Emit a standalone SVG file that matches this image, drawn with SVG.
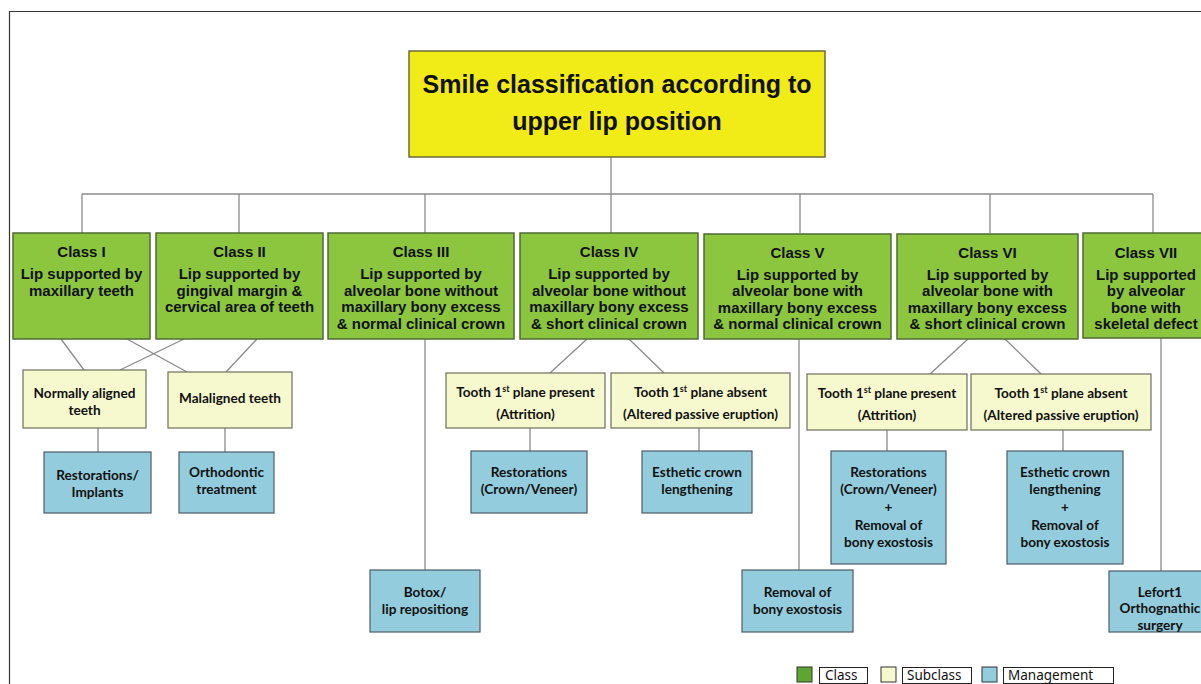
<svg xmlns="http://www.w3.org/2000/svg" width="1201" height="684" viewBox="0 0 1201 684">
<style>
.frame{fill:none;stroke:#333;stroke-width:1.2}
.title{fill:#f1ec17;stroke:#6b6b3a;stroke-width:1.5}
.cls{fill:#8cc63f;stroke:#4f6b35;stroke-width:1.5}
.sub{fill:#f6f9cd;stroke:#6e6e5a;stroke-width:1.2}
.mgmt{fill:#93cddd;stroke:#4d5c66;stroke-width:1.2}
.ln{fill:none;stroke:#8a8a8a;stroke-width:1.3}
.ttxt{font-family:"Liberation Sans",Arial,sans-serif;font-weight:bold;font-size:25px;fill:#111;text-anchor:middle}
.ctxt{font-family:"Liberation Sans",Arial,sans-serif;font-weight:bold;font-size:15px;fill:#111;text-anchor:middle}
.stxt{font-family:Lato,"Open Sans",sans-serif;font-weight:bold;font-size:13.6px;fill:#111;text-anchor:middle}
.sup{font-size:9px}
.leg{font-family:"Noto Sans","DejaVu Sans",sans-serif;font-size:13.5px;fill:#111}
.legbox{fill:#fff;stroke:#222;stroke-width:1}
</style>
<rect width="1201" height="684" fill="#fff"/>
<path class="frame" d="M9.5,684 V11.5 H1201"/>

<g id="connectors">
<path class="ln" d="M611,157 V194 M82,194 H1153 M82,194 V233 M239,194 V233 M425,194 V233 M611,194 V233 M800,194 V233 M990,194 V233 M1153,194 V233"/>
<path class="ln" d="M61,339 L84,370 M127,339 L187,372 M184,339 L120,370 M257,339 L226,372"/>
<path class="ln" d="M98,428 V452 M225,428 V452"/>
<path class="ln" d="M425,339 V570"/>
<path class="ln" d="M587,339 L550,373 M629,339 L664,373 M530,428 V451 M699,428 V451"/>
<path class="ln" d="M799,339 V570"/>
<path class="ln" d="M968,339 L930,374 M1005,339 L1041,374 M887,430 V451 M1063,430 V451"/>
<path class="ln" d="M1161,338 V571"/>
</g>

<g id="title">
<rect class="title" x="409" y="51" width="416" height="106"/>
<text class="ttxt" x="617" y="93">Smile classification according to</text>
<text class="ttxt" x="617" y="130">upper lip position</text>
</g>

<g id="class1">
<rect class="cls" x="13" y="233" width="137" height="106"/>
<text class="ctxt" x="81.5" y="257">Class I</text>
<text class="ctxt" x="81.5" y="279">Lip supported by</text>
<text class="ctxt" x="81.5" y="295.5">maxillary teeth</text>
</g>
<g id="class2">
<rect class="cls" x="156" y="233" width="167" height="106"/>
<text class="ctxt" x="239.5" y="257">Class II</text>
<text class="ctxt" x="239.5" y="279">Lip supported by</text>
<text class="ctxt" x="239.5" y="295.5">gingival margin &amp;</text>
<text class="ctxt" x="239.5" y="312">cervical area of teeth</text>
</g>
<g id="class3">
<rect class="cls" x="328" y="233" width="186" height="106"/>
<text class="ctxt" x="421" y="257">Class III</text>
<text class="ctxt" x="421" y="279">Lip supported by</text>
<text class="ctxt" x="421" y="295.5">alveolar bone without</text>
<text class="ctxt" x="421" y="312">maxillary bony excess</text>
<text class="ctxt" x="421" y="328.5">&amp; normal clinical crown</text>
</g>
<g id="class4">
<rect class="cls" x="520" y="233" width="178" height="106"/>
<text class="ctxt" x="609" y="257">Class IV</text>
<text class="ctxt" x="609" y="279">Lip supported by</text>
<text class="ctxt" x="609" y="295.5">alveolar bone without</text>
<text class="ctxt" x="609" y="312">maxillary bony excess</text>
<text class="ctxt" x="609" y="328.5">&amp; short clinical crown</text>
</g>
<g id="class5">
<rect class="cls" x="704" y="234" width="187" height="105"/>
<text class="ctxt" x="797.5" y="257.5">Class V</text>
<text class="ctxt" x="797.5" y="279.5">Lip supported by</text>
<text class="ctxt" x="797.5" y="296">alveolar bone with</text>
<text class="ctxt" x="797.5" y="312.5">maxillary bony excess</text>
<text class="ctxt" x="797.5" y="329">&amp; normal clinical crown</text>
</g>
<g id="class6">
<rect class="cls" x="897" y="234" width="181" height="105"/>
<text class="ctxt" x="987.5" y="257.5">Class VI</text>
<text class="ctxt" x="987.5" y="279.5">Lip supported by</text>
<text class="ctxt" x="987.5" y="296">alveolar bone with</text>
<text class="ctxt" x="987.5" y="312.5">maxillary bony excess</text>
<text class="ctxt" x="987.5" y="329">&amp; short clinical crown</text>
</g>
<g id="class7">
<rect class="cls" x="1083" y="233" width="128" height="105"/>
<text class="ctxt" x="1146" y="257.5">Class VII</text>
<text class="ctxt" x="1146" y="279.5">Lip supported</text>
<text class="ctxt" x="1146" y="296">by alveolar</text>
<text class="ctxt" x="1146" y="312.5">bone with</text>
<text class="ctxt" x="1146" y="329">skeletal defect</text>
</g>

<g id="sub-normal">
<rect class="sub" x="23" y="370" width="123" height="58"/>
<text class="stxt" x="84.5" y="397.5">Normally aligned</text>
<text class="stxt" x="84.5" y="414.5">teeth</text>
</g>
<g id="sub-malaligned">
<rect class="sub" x="168" y="372" width="124" height="56"/>
<text class="stxt" x="230" y="402.5">Malaligned teeth</text>
</g>
<g id="sub4-present">
<rect class="sub" x="446" y="373" width="159" height="55"/>
<text class="stxt" x="525.5" y="397">Tooth 1<tspan class="sup" dy="-5">st</tspan><tspan dy="5"> plane present</tspan></text>
<text class="stxt" x="525.5" y="419">(Attrition)</text>
</g>
<g id="sub4-absent">
<rect class="sub" x="611" y="373" width="179" height="55"/>
<text class="stxt" x="700.5" y="397">Tooth 1<tspan class="sup" dy="-5">st</tspan><tspan dy="5"> plane absent</tspan></text>
<text class="stxt" x="700.5" y="419">(Altered passive eruption)</text>
</g>
<g id="sub6-present">
<rect class="sub" x="807" y="374" width="160" height="56"/>
<text class="stxt" x="887" y="398">Tooth 1<tspan class="sup" dy="-5">st</tspan><tspan dy="5"> plane present</tspan></text>
<text class="stxt" x="887" y="420">(Attrition)</text>
</g>
<g id="sub6-absent">
<rect class="sub" x="971" y="374" width="180" height="56"/>
<text class="stxt" x="1061" y="398">Tooth 1<tspan class="sup" dy="-5">st</tspan><tspan dy="5"> plane absent</tspan></text>
<text class="stxt" x="1061" y="420">(Altered passive eruption)</text>
</g>

<g id="m-restorations-implants">
<rect class="mgmt" x="44" y="452" width="107" height="61"/>
<text class="stxt" x="97.5" y="479.5">Restorations/</text>
<text class="stxt" x="97.5" y="496.5">Implants</text>
</g>
<g id="m-orthodontic">
<rect class="mgmt" x="179" y="452" width="95" height="61"/>
<text class="stxt" x="226.5" y="477">Orthodontic</text>
<text class="stxt" x="226.5" y="494">treatment</text>
</g>
<g id="m-botox">
<rect class="mgmt" x="370" y="570" width="110" height="62"/>
<text class="stxt" x="425" y="596.5">Botox/</text>
<text class="stxt" x="425" y="613.5">lip repositiong</text>
</g>
<g id="m4-restorations">
<rect class="mgmt" x="471" y="451" width="116" height="62"/>
<text class="stxt" x="529" y="476.5">Restorations</text>
<text class="stxt" x="529" y="493.5">(Crown/Veneer)</text>
</g>
<g id="m4-esthetic">
<rect class="mgmt" x="642" y="451" width="110" height="62"/>
<text class="stxt" x="697" y="476.5">Esthetic crown</text>
<text class="stxt" x="697" y="493.5">lengthening</text>
</g>
<g id="m5-removal">
<rect class="mgmt" x="742" y="570" width="111" height="62"/>
<text class="stxt" x="797.5" y="596.5">Removal of</text>
<text class="stxt" x="797.5" y="613.5">bony exostosis</text>
</g>
<g id="m6-restorations">
<rect class="mgmt" x="831" y="451" width="115" height="113"/>
<text class="stxt" x="888.5" y="476.5">Restorations</text>
<text class="stxt" x="888.5" y="493.5">(Crown/Veneer)</text>
<text class="stxt" x="888.5" y="511.5">+</text>
<text class="stxt" x="888.5" y="529.5">Removal of</text>
<text class="stxt" x="888.5" y="546.5">bony exostosis</text>
</g>
<g id="m6-esthetic">
<rect class="mgmt" x="1007" y="451" width="116" height="113"/>
<text class="stxt" x="1065" y="476.5">Esthetic crown</text>
<text class="stxt" x="1065" y="493.5">lengthening</text>
<text class="stxt" x="1065" y="511.5">+</text>
<text class="stxt" x="1065" y="529.5">Removal of</text>
<text class="stxt" x="1065" y="546.5">bony exostosis</text>
</g>
<g id="m7-lefort">
<rect class="mgmt" x="1109" y="571" width="103" height="61"/>
<text class="stxt" x="1160" y="596.5">Lefort1</text>
<text class="stxt" x="1160" y="613">Orthognathic</text>
<text class="stxt" x="1160" y="630">surgery</text>
</g>

<g id="legend">
<rect x="797" y="667" width="15" height="15" fill="#5fa532" stroke="#333" stroke-width="1"/>
<rect class="legbox" x="819.5" y="667.5" width="48" height="16"/>
<text class="leg" x="825" y="680">Class</text>
<rect x="881" y="667" width="15" height="15" fill="#f6f9cd" stroke="#333" stroke-width="1"/>
<rect class="legbox" x="902.5" y="667.5" width="69" height="16"/>
<text class="leg" x="907" y="680">Subclass</text>
<rect x="982" y="667" width="15" height="15" fill="#93cddd" stroke="#333" stroke-width="1"/>
<rect class="legbox" x="1003.5" y="667.5" width="110" height="16"/>
<text class="leg" x="1008" y="680">Management</text>
</g>
</svg>
